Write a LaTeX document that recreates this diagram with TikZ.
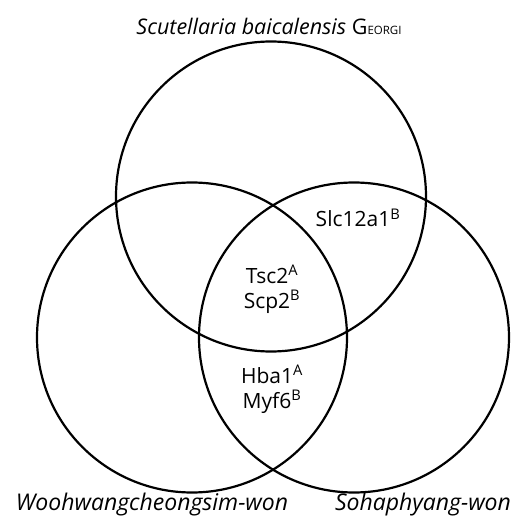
\documentclass[tikz,border=0pt]{standalone}
\usepackage{fontspec}
\setmainfont{Open Sans}
\begin{document}
\begin{tikzpicture}[x=1pt,y=1pt,
  setc/.style={draw=black,line width=2.2pt},
  gene/.style={font=\fontsize{21}{25}\selectfont,align=center,inner sep=0pt},
  lab/.style={font=\fontsize{21.5}{24}\selectfont\itshape,inner sep=0pt},
  blab/.style={font=\fontsize{23}{26}\selectfont\itshape,inner sep=0pt,anchor=base}]
\useasboundingbox (0,0) rectangle (515,517);
\draw[setc] (271,320.5) circle (155);
\draw[setc] (192,179.5) circle (155);
\draw[setc] (354,179.5) circle (155);
\node[lab] (t) at (269,491) {Scutellaria baicalensis {\upshape G{\fontsize{11.5}{12}\selectfont EORGI}}};
\node[blab] (w) at (152,6.5) {Woohwangcheongsim-won};
\node[blab] (s) at (423,6.5) {Sohaphyang-won};
\node[gene] (slc) at (358,299) {Slc12a1\textsuperscript{B}};
\node[gene] (tsc) at (272,228) {Tsc2\textsuperscript{A}\\Scp2\textsuperscript{B}};
\node[gene] (hba) at (272,128) {Hba1\textsuperscript{A}\\Myf6\textsuperscript{B}};
\end{tikzpicture}
\end{document}
